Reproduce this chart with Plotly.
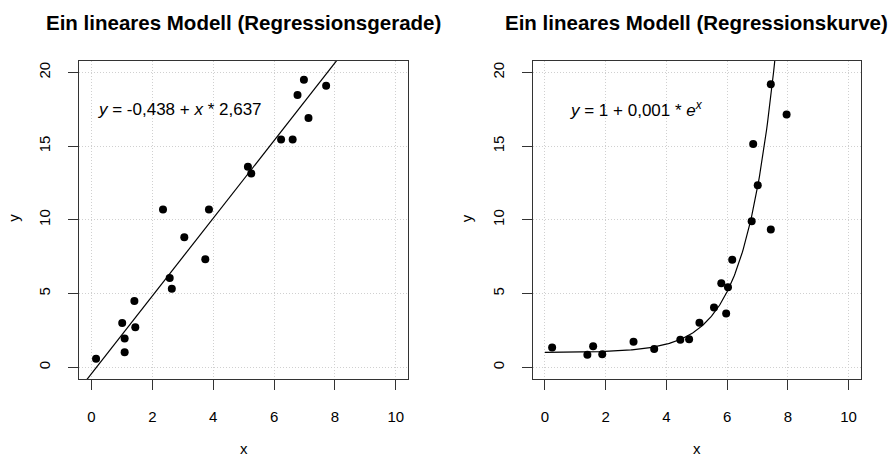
import numpy as np
import plotly.graph_objects as go

# ---- data ----
lin_x = [0.15, 1.01, 1.09, 1.09, 1.41, 1.44, 2.35, 2.57, 2.64, 3.05,
         3.74, 3.86, 5.14, 5.25, 6.23, 6.61, 6.77, 6.98, 7.13, 7.71]
lin_y = [0.57, 3.00, 1.95, 1.02, 4.50, 2.71, 10.70, 6.06, 5.32, 8.82,
         7.33, 10.70, 13.60, 13.14, 15.45, 15.45, 18.48, 19.50, 16.92, 19.10]

exp_x = [0.24, 1.40, 1.59, 1.89, 2.92, 3.60, 4.46, 4.75, 5.09, 5.57,
         5.97, 5.81, 6.03, 6.17, 6.81, 7.44, 7.01, 6.86, 7.44, 7.96]
exp_y = [1.33, 0.84, 1.43, 0.88, 1.72, 1.24, 1.86, 1.90, 3.01, 4.05,
         3.64, 5.70, 5.43, 7.29, 9.91, 9.34, 12.35, 15.14, 19.20, 17.15]

lin_intercept = -0.438
lin_slope = 2.637
curve_a = 1.0
curve_b = 0.0102   # curve as drawn in the picture

x_ticks = [0, 2, 4, 6, 8, 10]
y_ticks = [0, 5, 10, 15, 20]
titles = ["Ein lineares Modell (Regressionsgerade)",
          "Ein lineares Modell (Regressionskurve)"]
eq_texts = ["<i>y</i> = -0,438 + <i>x</i> * 2,637",
            "<i>y</i> = 1 + 0,001 * <i>e</i><sup><i>x</i></sup>"]

FONT = "Liberation Sans, Arial, Helvetica, sans-serif"
W, H = 890, 457

# plot boxes in pixels (left, right, top, bottom)
boxes = [(79.3, 408.0, 60.7, 379.0), (532.7, 860.7, 60.7, 379.0)]

fig = go.Figure()

# left panel
fig.add_trace(go.Scatter(x=lin_x, y=lin_y, mode="markers",
                         marker=dict(color="black", size=8),
                         xaxis="x", yaxis="y", showlegend=False))
lx = np.array([-0.4, 10.4])
fig.add_trace(go.Scatter(x=lx, y=lin_intercept + lin_slope * lx, mode="lines",
                         line=dict(color="black", width=1.2),
                         xaxis="x", yaxis="y", showlegend=False))

# right panel
fig.add_trace(go.Scatter(x=exp_x, y=exp_y, mode="markers",
                         marker=dict(color="black", size=8),
                         xaxis="x2", yaxis="y2", showlegend=False))
cx = np.linspace(0, 10, 301)
fig.add_trace(go.Scatter(x=cx, y=curve_a + curve_b * np.exp(cx), mode="lines",
                         line=dict(color="black", width=1.2),
                         xaxis="x2", yaxis="y2", showlegend=False))

def xaxis(dom, anchor):
    return dict(domain=dom, anchor=anchor, range=[-0.4, 10.4],
                tickvals=x_ticks, ticktext=[str(v) for v in x_ticks],
                ticks="outside", ticklen=10, tickcolor="#333", tickwidth=1,
                showline=True, mirror=True, linecolor="#333", linewidth=1,
                showgrid=True, gridcolor="#d0d0d0", griddash="1px,2px", gridwidth=1,
                zeroline=False, ticklabelstandoff=14,
                tickfont=dict(family=FONT, size=15, color="black"))

def yaxis(dom, anchor):
    return dict(domain=dom, anchor=anchor, range=[-0.8, 20.8],
                tickvals=y_ticks, ticktext=[str(v) for v in y_ticks],
                ticks="outside", ticklen=10, tickcolor="#333", tickwidth=1,
                showline=True, mirror=True, linecolor="#333", linewidth=1,
                showgrid=True, gridcolor="#d0d0d0", griddash="1px,2px", gridwidth=1,
                zeroline=False, tickangle=-90, ticklabelstandoff=12,
                tickfont=dict(family=FONT, size=15, color="black"))

ydom = [1 - boxes[0][3] / H, 1 - boxes[0][2] / H]
fig.update_layout(
    xaxis=xaxis([boxes[0][0] / W, boxes[0][1] / W], "y"),
    yaxis=yaxis(ydom, "x"),
    xaxis2=xaxis([boxes[1][0] / W, boxes[1][1] / W], "y2"),
    yaxis2=yaxis(ydom, "x2"),
)

ann = []
for i, (l, r, t, b) in enumerate(boxes):
    cxp = (l + r) / 2
    # title
    ann.append(dict(text="<b>" + titles[i] + "</b>", x=cxp / W, y=1 - 22 / H,
                    xref="paper", yref="paper", xanchor="center", yanchor="middle",
                    showarrow=False, font=dict(family=FONT, size=20.5, color="black")))
    # x label
    ann.append(dict(text="x", x=cxp / W, y=1 - 448 / H,
                    xref="paper", yref="paper", xanchor="center", yanchor="middle",
                    showarrow=False, font=dict(family=FONT, size=15, color="black")))
    # y label
    ann.append(dict(text="y", x=(l - 66.5) / W, y=1 - 218 / H, textangle=-90,
                    xref="paper", yref="paper", xanchor="center", yanchor="middle",
                    showarrow=False, font=dict(family=FONT, size=15, color="black")))

ann.append(dict(text=eq_texts[0], x=2.9, y=17.5, xref="x", yref="y",
                xanchor="center", yanchor="middle", showarrow=False,
                font=dict(family=FONT, size=17, color="black")))
ann.append(dict(text=eq_texts[1], x=3.02, y=17.5, xref="x2", yref="y2",
                xanchor="center", yanchor="middle", showarrow=False,
                font=dict(family=FONT, size=17, color="black")))

fig.update_layout(annotations=ann, width=W, height=H,
                  margin=dict(l=0, r=0, t=0, b=0),
                  paper_bgcolor="white", plot_bgcolor="white",
                  showlegend=False)

fig.write_html("out.html", config={"displayModeBar": False},
               post_script="document.body.style.margin='0';document.body.style.overflow='hidden';")
